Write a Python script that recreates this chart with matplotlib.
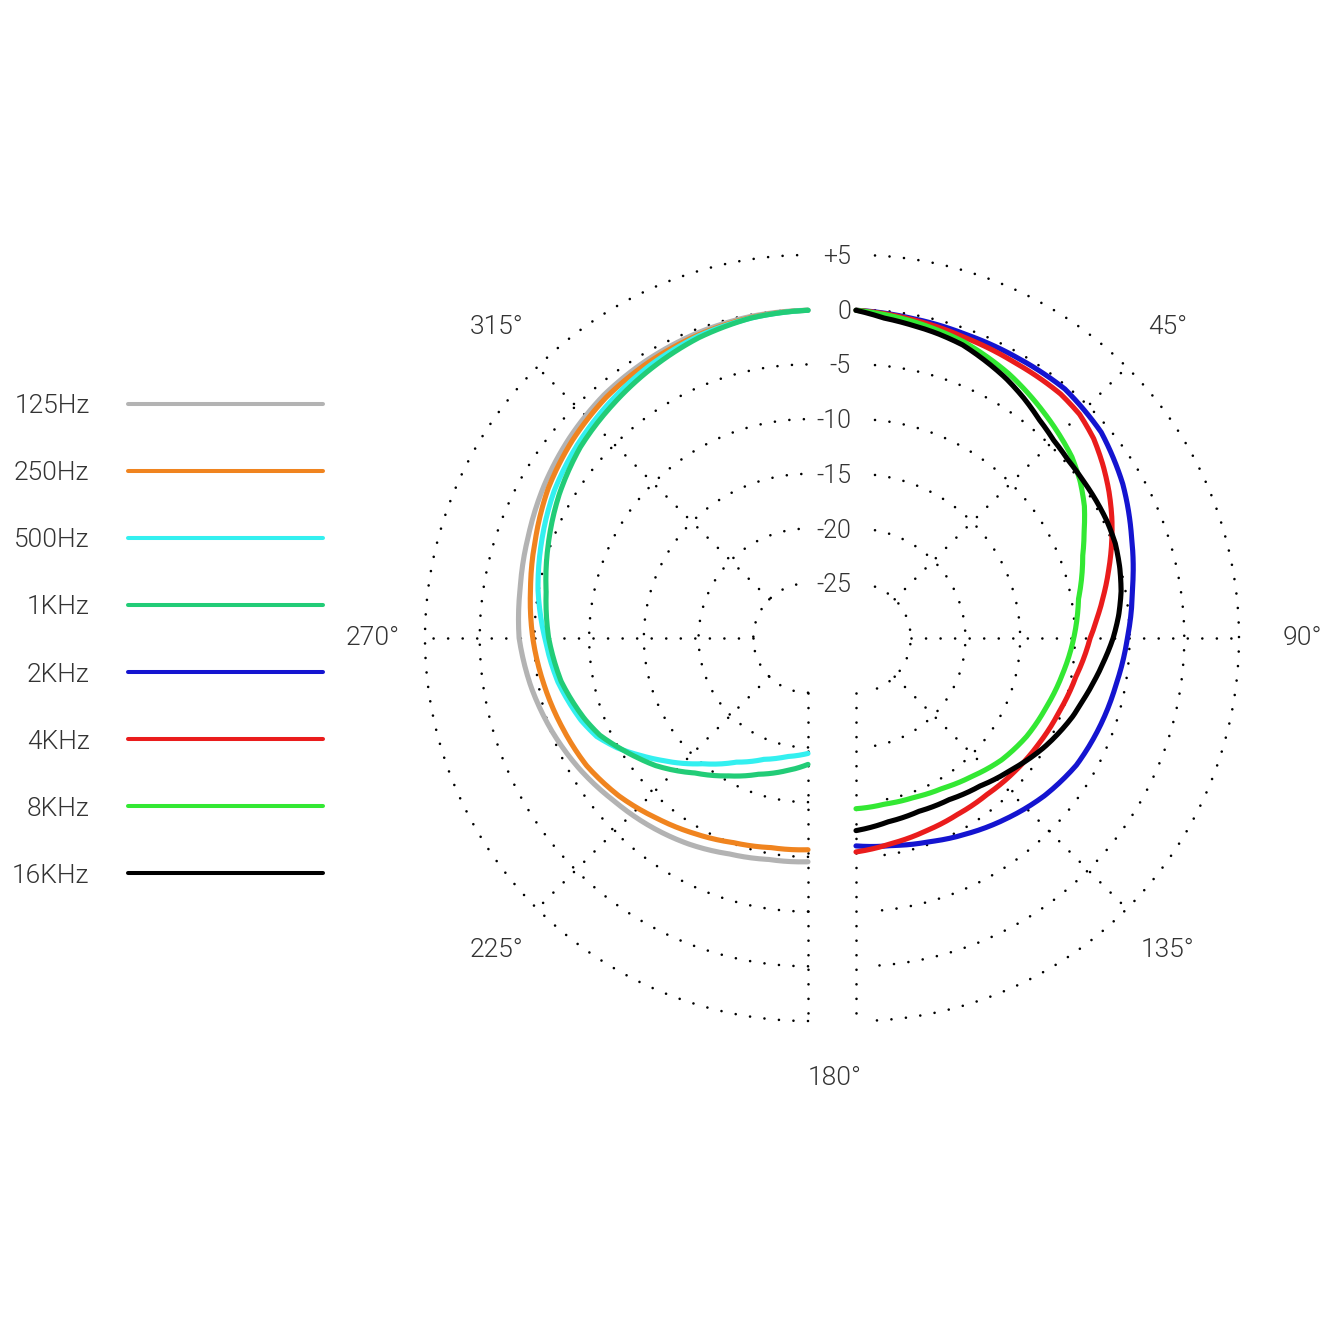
import numpy as np
import matplotlib.pyplot as plt

plt.rcParams['font.family'] = ['Roboto', 'DejaVu Sans']

# polar response: angle in degrees (clockwise from front), level in dB
# low frequencies sit on the left half, high frequencies on the right half
ang_125 = [360, 350, 340, 330, 320, 310, 300, 290, 280, 270, 260, 250, 240, 230,
           220, 210, 200, 190, 180]
db_125 = [-0.05, -0.15, -0.35, -0.65, -1.0, -1.55, -2.15, -2.8, -3.3, -3.6, -4.3, -5.1, -5.95, -6.85,
          -7.55, -8.25, -9.0, -9.45, -9.55]

ang_250 = [360, 350, 340, 330, 320, 310, 300, 290, 280, 270, 260, 250, 240, 230,
           220, 210, 200, 190, 180]
db_250 = [-0.05, -0.25, -0.55, -0.9, -1.3, -1.9, -2.6, -3.5, -4.25, -4.85, -5.5, -6.1, -6.65, -7.5,
          -8.5, -9.35, -10.1, -10.55, -10.65]

ang_500 = [360, 350, 340, 330, 320, 310, 300, 290, 280, 270, 260, 250, 245, 240,
           235, 230, 220, 210, 200, 190, 180]
db_500 = [-0.05, -0.3, -0.65, -1.2, -1.85, -2.5, -3.2, -4.1, -4.95, -5.95, -6.8, -7.95, -8.7, -9.9,
          -11.3, -12.6, -15.0, -16.9, -18.2, -19.0, -19.45]

ang_1k = [360, 350, 340, 330, 320, 310, 300, 290, 280, 270, 260, 250, 245, 240,
          235, 230, 220, 210, 200, 190, 180]
db_1k = [-0.05, -0.3, -0.8, -1.5, -2.2, -2.85, -3.75, -4.75, -5.7, -6.3, -7.1, -8.3, -9.0, -10.0,
         -10.95, -11.85, -13.9, -15.45, -16.75, -17.65, -18.45]

ang_2k = [0, 10, 20, 30, 40, 50, 60, 70, 80, 90, 100, 110, 120, 130,
          140, 150, 160, 170, 180]
db_2k = [-0.05, -0.35, -0.5, -0.45, -0.3, -0.75, -1.85, -3.2, -4.35, -5.2, -5.85, -6.3, -6.75, -7.55,
         -8.5, -9.4, -10.2, -10.75, -11.0]

ang_4k = [0, 10, 20, 30, 40, 45, 50, 55, 60, 65, 70, 75, 80, 85, 90,
          100, 110, 120, 130, 140, 150, 160, 170, 180]
db_4k = [-0.05, -0.45, -0.8, -0.95, -0.9, -1.1, -1.65, -2.45, -3.3, -4.2, -5.15, -6.1, -7.0, -7.85, -8.6,
         -9.6, -10.25, -10.7, -11.05, -11.35, -11.4, -11.25, -10.95, -10.45]

ang_8k = [0, 10, 20, 30, 40, 50, 55, 60, 65, 70, 80, 90,
          100, 110, 120, 130, 140, 150, 160, 170, 180]
db_8k = [-0.05, -0.6, -1.2, -2.1, -3.2, -4.25, -5.0, -5.9, -7.0, -7.95, -9.35, -10.1,
         -10.85, -11.5, -12.0, -12.65, -13.5, -14.15, -14.5, -14.6, -14.4]

ang_16k = [0, 5, 10, 15, 20, 25, 30, 35, 40, 45, 50, 55, 60, 65, 70, 75, 80, 85, 90,
           95, 100, 105, 110, 120, 130, 140, 150, 160, 170, 180]
db_16k = [-0.05, -0.65, -0.95, -1.2, -1.5, -2.05, -2.6, -3.25, -3.95, -4.45, -4.7, -4.75, -4.72,
          -4.7, -4.78, -5.05, -5.4, -5.9, -6.5,
          -7.2, -7.85, -8.45, -8.95, -10.1, -11.35, -12.35, -12.95, -13.15, -12.95, -12.4]

left_series = [('125Hz', ang_125, db_125, '#b3b3b3'),
               ('250Hz', ang_250, db_250, '#f0841f'),
               ('500Hz', ang_500, db_500, '#33f0f0'),
               ('1KHz', ang_1k, db_1k, '#22cc77')]
right_series = [('2KHz', ang_2k, db_2k, '#1414d0'),
                ('4KHz', ang_4k, db_4k, '#ea1c1c'),
                ('8KHz', ang_8k, db_8k, '#33e833'),
                ('16KHz', ang_16k, db_16k, '#000000')]

ring_levels = [5, 0, -5, -10, -15, -20, -25]
ring_labels = ['+5', '0', '-5', '-10', '-15', '-20', '-25']
left_spokes = [180, 225, 270, 315]
right_spokes = [45, 90, 135, 180]
left_angle_labels = [(225, 10.3), (270, 9.75), (315, 10.25)]
right_angle_labels = [(45, 10.25), (90, 10.75), (135, 10.3)]

W = 1338
R_PX = 383          # radius of the +5 dB ring
CY = 638
LEFT_CX, RIGHT_CX = 808, 856
RMIN, RMAX = -30, 5
TXT = '#333333'
FW = 300

fig = plt.figure(figsize=(13.38, 13.38), dpi=100)


def make_half(cx):
    ax = fig.add_axes([(cx - R_PX) / W, (W - CY - R_PX) / W, 2 * R_PX / W, 2 * R_PX / W],
                      projection='polar')
    ax.set_theta_zero_location('N')
    ax.set_theta_direction(-1)
    ax.set_ylim(RMIN, RMAX)
    ax.grid(False)
    ax.set_xticks([])
    ax.set_yticks([])
    ax.spines['polar'].set_visible(False)
    ax.patch.set_visible(False)
    return ax


ax_l = make_half(LEFT_CX)
ax_r = make_half(RIGHT_CX)

dot = dict(color='black', lw=1.9, ls=(0, (0.01, 5.5)), dash_capstyle='round',
           clip_on=False, zorder=1)
px_per_db = R_PX / (RMAX - RMIN)

for lv in ring_levels:
    t = np.radians(np.linspace(180, 360, 300))
    ax_l.plot(t, np.full_like(t, lv), **dot)
    gap = np.degrees(np.arcsin(19 / ((lv - RMIN) * px_per_db)))
    t = np.radians(np.linspace(gap, 180 - gap, 300))
    ax_r.plot(t, np.full_like(t, lv), **dot)

for a in left_spokes:
    ax_l.plot([np.radians(a)] * 2, [-25, RMAX], **dot)
for a in right_spokes:
    ax_r.plot([np.radians(a)] * 2, [-25, RMAX], **dot)

handles, names = [], []
for ax, series in [(ax_l, left_series), (ax_r, right_series)]:
    for name, ang, db, col in series:
        ln, = ax.plot(np.radians(ang), db, color=col, lw=3.7, solid_capstyle='round',
                      solid_joinstyle='round', zorder=3, clip_on=False)
        # let the polar transform draw each segment along the angle, not as a chord
        ln.get_path()._interpolation_steps = 16
        handles.append(ln)
        names.append(name)

for lv, lab in zip(ring_levels, ring_labels):
    ax_r.annotate(lab, xy=(0, lv), xytext=(-5, -2), textcoords='offset pixels',
                  ha='right', va='center', fontsize=18, color=TXT, fontweight=FW,
                  annotation_clip=False)

for a, r in left_angle_labels:
    ax_l.text(np.radians(a), r, f'{a}°', ha='center', va='center',
              fontsize=19, color=TXT, fontweight=FW)
for a, r in right_angle_labels:
    ax_r.text(np.radians(a), r, f'{a}°', ha='center', va='center',
              fontsize=19, color=TXT, fontweight=FW)
ax_l.annotate('180°', xy=(np.pi, 10.2), xytext=(27, 0), textcoords='offset pixels',
              ha='center', va='center', fontsize=19, color=TXT, fontweight=FW,
              annotation_clip=False)

leg = fig.legend(handles=handles, labels=names, loc='center right',
                 bbox_to_anchor=(323 / W, 1 - 641 / W), frameon=False, markerfirst=False,
                 handlelength=7.4, handletextpad=1.45, labelspacing=1.63,
                 borderpad=0, borderaxespad=0,
                 prop={'size': 19, 'weight': FW}, labelcolor=TXT)
for ln in leg.get_lines():
    ln.set_linewidth(2.9)

fig.savefig('out.png', dpi=100, facecolor='white')
